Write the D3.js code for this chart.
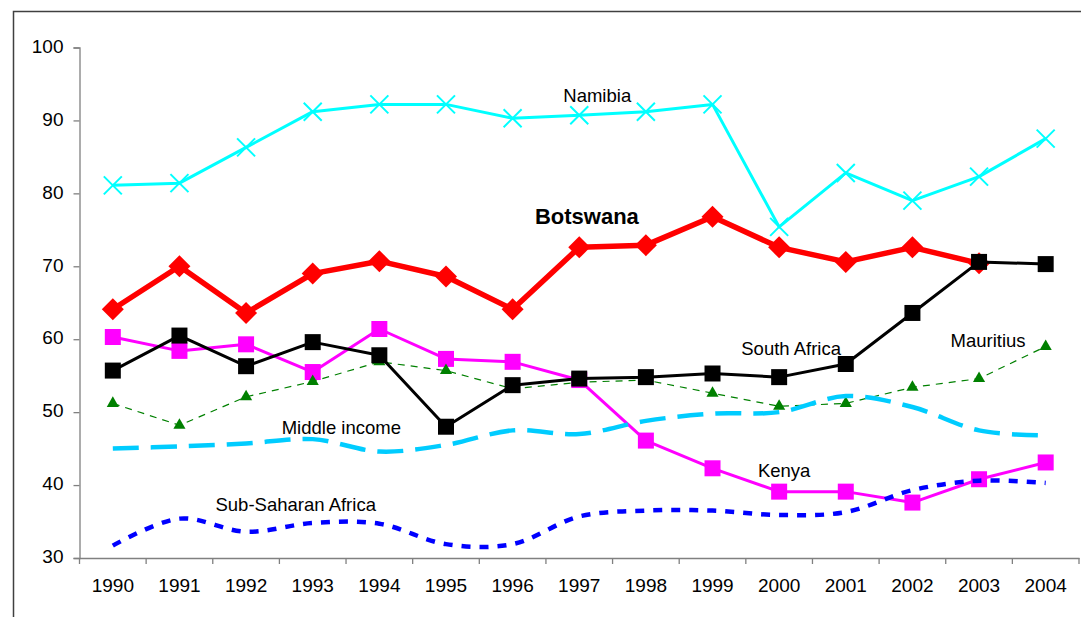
<!DOCTYPE html>
<html>
<head>
<meta charset="utf-8">
<script src="https://cdn.jsdelivr.net/npm/d3@7"></script>
<style>
  body { margin: 0; background: #fff; }
  svg { display: block; font-family: "Liberation Sans", Arial, sans-serif; }
</style>
</head>
<body>
<div id="chart"></div>
<script>
// chart values
const years = ['1990','1991','1992','1993','1994','1995','1996','1997','1998','1999','2000','2001','2002','2003','2004'];
const yTicks = [30, 40, 50, 60, 70, 80, 90, 100];

const namibia      = [81.1, 81.4, 86.3, 91.2, 92.2, 92.2, 90.3, 90.7, 91.2, 92.2, 75.4, 82.8, 79.0, 82.3, 87.5];
const botswana     = [64.1, 70.0, 63.6, 69.0, 70.7, 68.6, 64.1, 72.6, 72.9, 76.8, 72.6, 70.6, 72.6, 70.4, null];
const kenya        = [60.3, 58.4, 59.3, 55.5, 61.4, 57.3, 56.9, 54.4, 46.1, 42.3, 39.1, 39.1, 37.6, 40.8, 43.1];
const mauritius    = [51.2, 48.2, 52.1, 54.2, 56.9, 55.7, 53.2, 54.1, 54.4, 52.6, 50.8, 51.2, 53.4, 54.6, 59.0];
const southAfrica  = [55.7, 60.5, 56.3, 59.6, 57.8, 48.0, 53.7, 54.6, 54.8, 55.3, 54.8, 56.6, 63.6, 70.6, 70.3];
const middleIncome = [45.0, 45.3, 45.7, 46.3, 44.6, 45.5, 47.5, 47.0, 48.8, 49.8, 50.0, 52.2, 50.7, 47.5, 46.8];
const subSaharan   = [31.7, 35.4, 33.6, 34.8, 34.7, 31.9, 31.9, 35.7, 36.5, 36.5, 35.9, 36.3, 39.3, 40.6, 40.3];

const width = 1081;
const height = 617;
const margin = {left: 79.5, right: 2, top: 47.5, bottom: 59};

const svg = d3.select("#chart")
  .append("svg")
  .attr("width", width)
  .attr("height", height);

// outer frame (cut by the window on the right and bottom)
svg.append("rect")
  .attr("x", 13.5).attr("y", 11.5)
  .attr("width", 1200).attr("height", 800)
  .attr("fill", "none")
  .attr("stroke", "#404040")
  .attr("stroke-width", 1.5);

// scales
const xScale = d3.scaleBand()
  .domain(years)
  .range([margin.left, width - margin.right])
  .padding(0);

const yScale = d3.scaleLinear()
  .domain([30, 100])
  .range([height - margin.bottom, margin.top]);

const xc = y => xScale(y) + xScale.bandwidth() / 2;

// y axis
const yAxis = svg.append("g")
  .attr("transform", `translate(${margin.left},0)`)
  .call(d3.axisLeft(yScale).tickValues(yTicks).tickSize(6).tickPadding(10));
yAxis.select(".domain").attr("stroke", "#808080").attr("stroke-width", 1.3);
yAxis.selectAll(".tick line").attr("stroke", "#808080").attr("stroke-width", 1.3);
yAxis.selectAll("text").attr("font-size", "19px").attr("fill", "#000").attr("dy", "0.25em");

// x axis: labels in the middle of each band, tick marks on band edges
const xAxis = svg.append("g")
  .attr("transform", `translate(0,${height - margin.bottom})`)
  .call(d3.axisBottom(xScale).tickSize(0).tickPadding(21).tickSizeOuter(0));
xAxis.select(".domain").attr("stroke", "#808080").attr("stroke-width", 1.3);
xAxis.selectAll("text").attr("font-size", "19px").attr("fill", "#000");

const edges = years.map(y => xScale(y)).concat([xScale(years[years.length - 1]) + xScale.bandwidth()]);
xAxis.selectAll(".edge")
  .data(edges)
  .enter()
  .append("line")
  .attr("class", "edge")
  .attr("x1", d => d).attr("x2", d => d)
  .attr("y1", 0).attr("y2", 6)
  .attr("stroke", "#808080")
  .attr("stroke-width", 1.3);

// series, in drawing order
const series = [
  {name: "Namibia", values: namibia, color: "#00FFFF", width: 3, dash: null, smooth: false, marker: "x"},
  {name: "Botswana", values: botswana, color: "#FF0000", width: 5.5, dash: null, smooth: false, marker: "diamond"},
  {name: "Kenya", values: kenya, color: "#FF00FF", width: 3, dash: null, smooth: false, marker: "square"},
  {name: "Mauritius", values: mauritius, color: "#008000", width: 1.2, dash: "7,6", smooth: false, marker: "triangle"},
  {name: "South Africa", values: southAfrica, color: "#000000", width: 3, dash: null, smooth: false, marker: "square"},
  {name: "Middle income", values: middleIncome, color: "#00CCFF", width: 4.5, dash: "26,12", smooth: true, marker: null},
  {name: "Sub-Saharan Africa", values: subSaharan, color: "#0000FF", width: 4.5, dash: "9,9", smooth: true, marker: null}
];

const markerPath = {
  diamond: "M0,-11L11,0L0,11L-11,0Z",
  square: d3.symbol().type(d3.symbolSquare).size(256)(),
  triangle: d3.symbol().type(d3.symbolTriangle).size(64)(),
  x: "M-9,-9L9,9M-9,9L9,-9"
};

series.forEach(s => {
  const pts = years.map((y, i) => ({year: y, v: s.values[i]}));

  const line = d3.line()
    .defined(d => d.v != null)
    .x(d => xc(d.year))
    .y(d => yScale(d.v))
    .curve(s.smooth ? d3.curveCatmullRom : d3.curveLinear);

  svg.append("path")
    .datum(pts)
    .attr("d", line)
    .attr("fill", "none")
    .attr("stroke", s.color)
    .attr("stroke-width", s.width)
    .attr("stroke-dasharray", s.dash)
    .attr("stroke-linejoin", "round");

  if (s.marker) {
    svg.selectAll(null)
      .data(pts.filter(d => d.v != null))
      .enter()
      .append("path")
      .attr("d", markerPath[s.marker])
      .attr("transform", d => `translate(${xc(d.year)},${yScale(d.v)})`)
      .attr("fill", s.marker == "x" ? "none" : s.color)
      .attr("stroke", s.color)
      .attr("stroke-width", s.marker == "x" ? 2 : 0);
  }
});

// series names written on the plot
const labels = [
  {text: "Namibia", year: "1997", dx: 18, v: 93.4, size: 18.5, bold: false},
  {text: "Botswana", year: "1998", dx: -59, v: 76.85, size: 22, bold: true},
  {text: "South Africa", year: "2000", dx: 12, v: 58.8, size: 18.5, bold: false},
  {text: "Mauritius", year: "2003", dx: 9, v: 59.9, size: 18.5, bold: false},
  {text: "Middle income", year: "1994", dx: -38, v: 47.9, size: 18.5, bold: false},
  {text: "Kenya", year: "2000", dx: 5, v: 42.05, size: 18.5, bold: false},
  {text: "Sub-Saharan Africa", year: "1993", dx: -17, v: 37.3, size: 18.5, bold: false}
];

svg.selectAll(".label")
  .data(labels)
  .enter()
  .append("text")
  .attr("class", "label")
  .attr("x", d => xc(d.year) + d.dx)
  .attr("y", d => yScale(d.v))
  .attr("dy", "0.36em")
  .attr("text-anchor", "middle")
  .attr("font-size", d => d.size + "px")
  .attr("font-weight", d => d.bold ? "bold" : "normal")
  .attr("fill", "#000")
  .text(d => d.text);
</script>
</body>
</html>
